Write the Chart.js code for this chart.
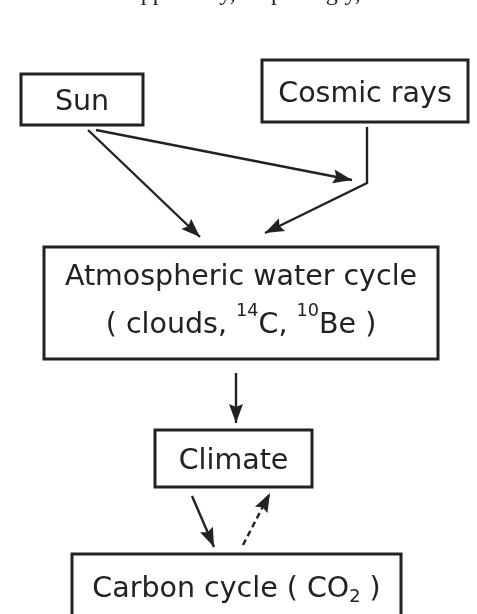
<!DOCTYPE html>
<html>
<head>
<meta charset="utf-8">
<script src="https://cdn.jsdelivr.net/npm/chart.js@4.4.1/dist/chart.umd.min.js"></script>
<style>
  html, body { margin: 0; padding: 0; background: #fff; }
  #wrap { width: 477px; height: 614px; }
</style>
</head>
<body>
<div id="wrap"><canvas id="flowChart" width="477" height="614"></canvas></div>
<script>
// boxes of the diagram (page units, y grows downward)
const nodeLabels = ['Sun', 'Cosmic rays', 'Atmospheric water cycle\n( clouds, ^14C, ^10Be )', 'Climate', 'Carbon cycle ( CO_2 )'];
const nodeLeft   = [21, 262, 44, 155, 72];
const nodeRight  = [143, 468, 438, 312, 401];
const nodeTop    = [74, 60, 247, 430, 554];
const nodeBottom = [125, 122, 359, 487, 618];

// links between boxes, last point of each is the arrow tip
const linkX = [[88, 200], [96, 352], [367, 367, 265], [236, 236], [192, 214], [243, 270]];
const linkY = [[130, 237], [130, 180], [127, 183, 233], [373, 423], [496, 547], [545, 493]];
const linkDashed = [false, false, false, false, false, true];

// cut-off line of running text above the figure
const captionText = 'apparently, surprisingly,';

const INK = '#222';
const FONT = '"DejaVu Sans", sans-serif';
const SIZE = 28.5;

// draw one line with ^sup and _sub parts, centred on cx
function drawRich(ctx, line, cx, baseline, size) {
    let segs = [];
    let re = /([\^_])(\d+)|([^\^_]+)/g;
    let m;
    while ((m = re.exec(line)) !== null) {
        if (m[3]) segs.push({ t: m[3], k: 'n' });
        else segs.push({ t: m[2], k: m[1] === '^' ? 'sup' : 'sub' });
    }
    let small = size * 0.62;
    let total = 0;
    segs.forEach(function(s) {
        ctx.font = (s.k === 'n' ? size : small) + 'px ' + FONT;
        s.w = ctx.measureText(s.t).width;
        total += s.w;
    });
    let x = cx - total / 2;
    ctx.textAlign = 'left';
    ctx.textBaseline = 'alphabetic';
    segs.forEach(function(s) {
        ctx.font = (s.k === 'n' ? size : small) + 'px ' + FONT;
        let dy = 0;
        if (s.k === 'sup') dy = -size * 0.58;
        if (s.k === 'sub') dy = size * 0.18;
        ctx.fillText(s.t, x, baseline + dy);
        x += s.w;
    });
}

const flowPlugin = {
    id: 'flowPlugin',
    beforeDatasetsDraw(chart) {
        const ctx = chart.ctx;
        const xs = chart.scales.x, ys = chart.scales.y;
        ctx.save();
        ctx.fillStyle = '#fff';
        ctx.fillRect(0, 0, chart.width, chart.height);

        // caption fragment (only descenders show)
        ctx.fillStyle = INK;
        ctx.font = '24px "Liberation Serif", serif';
        ctx.textAlign = 'left';
        ctx.textBaseline = 'alphabetic';
        ctx.fillText(captionText, xs.getPixelForValue(130), ys.getPixelForValue(0));

        ctx.strokeStyle = INK;
        ctx.lineWidth = 3;
        for (let i = 0; i < nodeLabels.length; i++) {
            let x0 = xs.getPixelForValue(nodeLeft[i]), x1 = xs.getPixelForValue(nodeRight[i]);
            let y0 = ys.getPixelForValue(nodeTop[i]), y1 = ys.getPixelForValue(nodeBottom[i]);
            ctx.strokeRect(x0, y0, x1 - x0, y1 - y0);

            let lines = nodeLabels[i].split('\n');
            let gap = 48;
            let cx = (x0 + x1) / 2;
            let cy = (y0 + y1) / 2;
            let capH = SIZE * 0.76;
            let first = cy - (lines.length - 1) * gap / 2 + capH / 2;
            if (lines.length > 1) first -= 5;
            if (nodeBottom[i] > 614) first = ys.getPixelForValue(597);
            ctx.fillStyle = INK;
            lines.forEach(function(l, j) {
                drawRich(ctx, l, cx, first + j * gap, SIZE);
            });
        }
        ctx.restore();
    },
    afterDatasetsDraw(chart) {
        const ctx = chart.ctx;
        ctx.save();
        ctx.fillStyle = INK;
        chart.data.datasets.forEach(function(ds, i) {
            let pts = chart.getDatasetMeta(i).data;
            let a = pts[pts.length - 2], b = pts[pts.length - 1];
            let ang = Math.atan2(b.y - a.y, b.x - a.x);
            let len = 19, half = 7, notch = 16;
            ctx.save();
            ctx.translate(b.x, b.y);
            ctx.rotate(ang);
            ctx.beginPath();
            ctx.moveTo(0, 0);
            ctx.lineTo(-len, -half);
            ctx.lineTo(-notch, 0);
            ctx.lineTo(-len, half);
            ctx.closePath();
            ctx.fill();
            ctx.restore();
        });
        ctx.restore();
    }
};

let datasets = linkX.map(function(xsArr, i) {
    return {
        data: xsArr.map(function(x, j) { return { x: x, y: linkY[i][j] }; }),
        showLine: true,
        borderColor: INK,
        borderWidth: 2.4,
        borderDash: linkDashed[i] ? [6, 4] : [],
        pointRadius: 0,
        tension: 0,
        clip: false
    };
});

const ctx = document.getElementById('flowChart').getContext('2d');
new Chart(ctx, {
    type: 'scatter',
    data: { datasets: datasets },
    options: {
        responsive: false,
        animation: false,
        events: [],
        layout: { padding: 0 },
        scales: {
            x: { type: 'linear', min: 0, max: 477, display: false },
            y: { type: 'linear', min: 0, max: 614, reverse: true, display: false }
        },
        plugins: {
            legend: { display: false },
            tooltip: { enabled: false }
        }
    },
    plugins: [flowPlugin]
});
</script>
</body>
</html>
